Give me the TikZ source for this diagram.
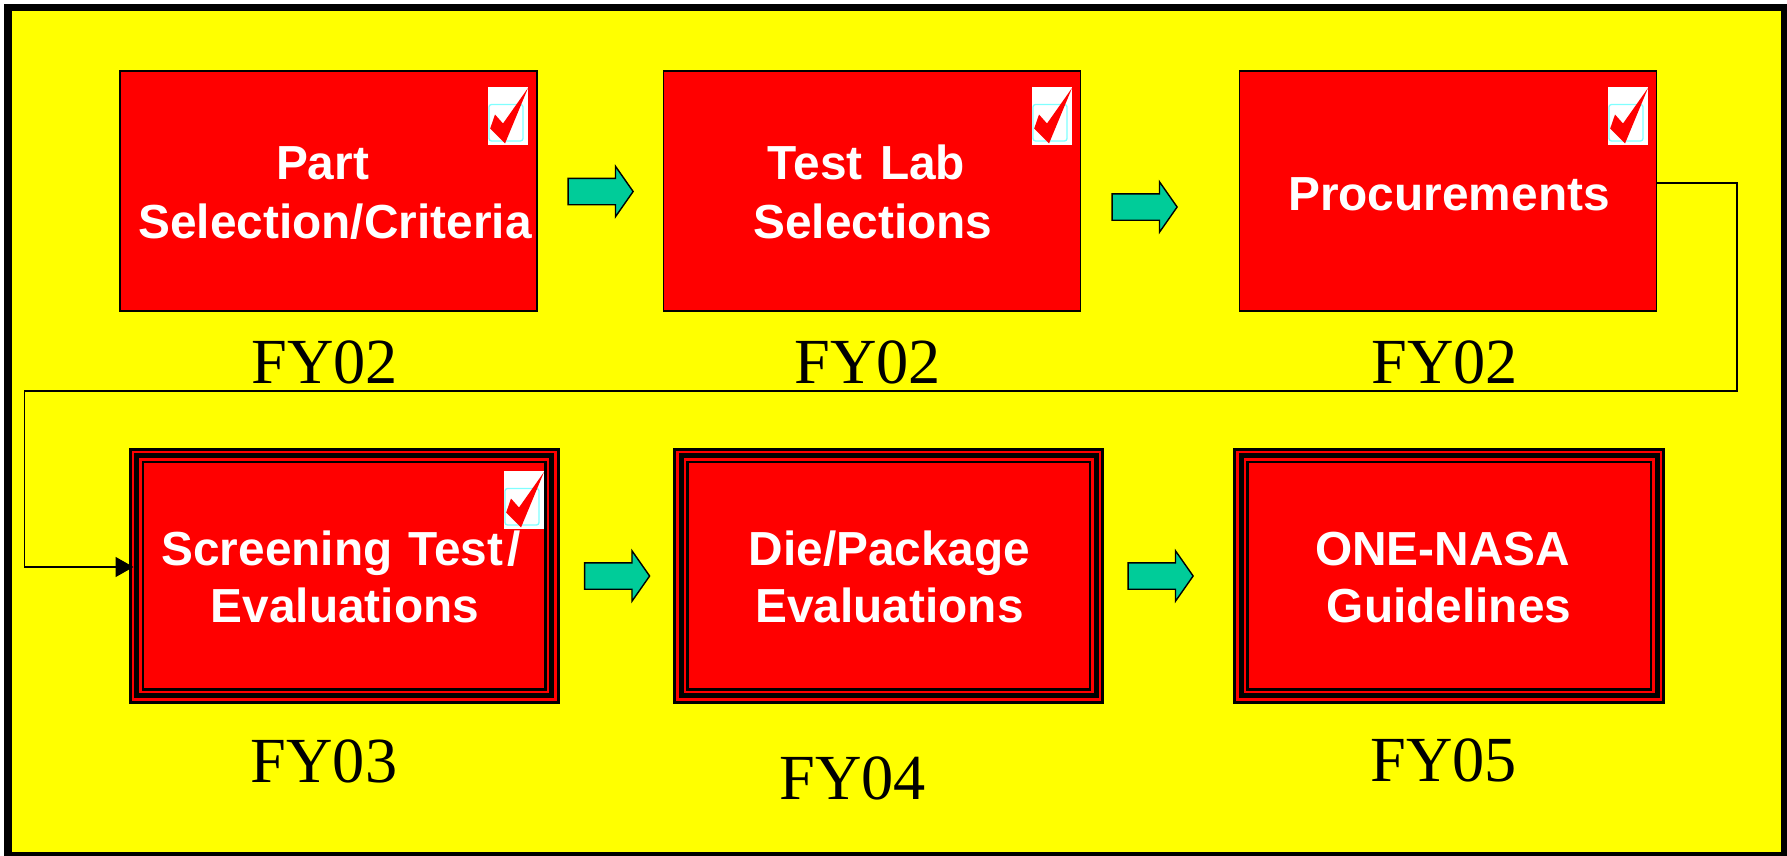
\documentclass[tikz,border=0pt]{standalone}
\usepackage{fontspec}
\setmainfont{Liberation Serif}
\setsansfont{Liberation Sans}
\usetikzlibrary{arrows.meta,shapes.arrows}
\definecolor{flowgreen}{RGB}{0,204,153}
\definecolor{pageyellow}{RGB}{255,255,0}
\definecolor{boxred}{RGB}{255,0,0}
\definecolor{tickcyan}{RGB}{128,255,255}
\newcommand{\insetrect}[2]{\fill[#2] ([xshift=#1pt,yshift=-#1pt]path picture bounding box.north west) rectangle ([xshift=-#1pt,yshift=#1pt]path picture bounding box.south east);}
\newcommand{\tickmark}[2]{\begin{scope}[shift={(#1,#2)}]
  \fill[white] (0,0) rectangle (40,58);
  \draw[draw=tickcyan,line width=1.3pt,rounded corners=2.5pt] (1,17.5) rectangle (35,54);
  \fill[boxred] (40,1) -- (17,56.5) -- (2.2,41.5) -- (7,27.5) -- (15,36.5) -- cycle;
\end{scope}}
\tikzset{
  plainbox/.style={draw=black,fill=boxred,line width=1.6pt,minimum width=417pt,minimum height=240pt,inner sep=0pt},
  triplebox/.style={draw=black,fill=black,line width=1pt,minimum height=255pt,inner sep=0pt,
    path picture={\insetrect{2.5}{boxred}\insetrect{5}{black}\insetrect{10}{boxred}\insetrect{12.5}{black}\insetrect{15}{boxred}}},
  blocktext/.style={text=white,font=\sffamily\bfseries\fontsize{47.8}{57}\selectfont,align=center,anchor=base,inner sep=0pt},
  fylabel/.style={font=\rmfamily\fontsize{64.3}{70}\selectfont,anchor=base,inner sep=0pt,text=black},
  flow/.style={single arrow,draw=black,fill=flowgreen,line width=1.4pt,minimum height=65pt,minimum width=49pt,
    single arrow head extend=12pt,single arrow tip angle=110,inner xsep=0pt,inner ysep=12.5pt,single arrow head indent=0pt,anchor=center},
  link/.style={draw=black,line width=1.5pt}
}
\begin{document}
\begin{tikzpicture}[x=1pt,y=-1pt]
\useasboundingbox (0,0) rectangle (1787,856);
\fill[white] (0,0) rectangle (1787,856);
\fill[black] (4,4) rectangle (1787,856);
\fill[pageyellow] (12,11) rectangle (1781,852);

\node[plainbox] (b1) at (328.5,191) {};
\node[plainbox] (b2) at (872,191) {};
\node[plainbox] (b3) at (1448,191) {};
\node[triplebox,minimum width=430pt] (b4) at (344,575.5) {};
\node[triplebox,minimum width=430pt] (b5) at (888.5,575.5) {};
\node[triplebox,minimum width=431pt] (b6) at (1449,575.5) {};

\tickmark{488}{87}
\tickmark{1032}{87}
\tickmark{1608}{87}
\tickmark{504}{471}

\node[blocktext] (t1) at (335,238) {Part\hspace*{25pt}\\[2pt]Selection/Criteria};
\node[blocktext] (t2) at (873,238) {Test\hspace{17.5pt}Lab\hspace*{13pt}\\[2pt]Selections};
\node[blocktext] (t3) at (1449,210) {Procurements};
\node[blocktext] (t4) at (345,622) {Screening\hspace{16pt}Test\kern4pt/\hspace*{8pt}\\Evaluations};
\node[blocktext] (t5) at (889.5,622) {Die/Package\\Evaluations};
\node[blocktext] (t6) at (1449,622) {ONE-NASA\hspace*{13pt}\\Guidelines};

\node[fylabel] (f1) at (324.5,383) {FY02};
\node[fylabel] (f2) at (867.5,383) {FY02};
\node[fylabel] (f3) at (1444.5,383) {FY02};
\node[fylabel] (f4) at (324,782) {FY03};
\node[fylabel] (f5) at (852.5,799) {FY04};
\node[fylabel] (f6) at (1443.5,781) {FY05};

\node[flow] (a1) at (596,191.5) {};
\node[flow] (a2) at (1140,207) {};
\node[flow] (a3) at (612.5,576) {};
\node[flow] (a4) at (1156,576) {};

\coordinate (c1) at (1737,183);
\coordinate (c2) at (1737,391);
\coordinate (c3) at (24.5,391);
\coordinate (c4) at (24.5,567);
\draw[link,-{Triangle[length=18pt,width=20pt]}] (b3.east |- c1) -- (c1) -- (c2) -- (c3) -- (c4) -- ([xshift=5pt]b4.west |- c4);
\end{tikzpicture}
\end{document}
